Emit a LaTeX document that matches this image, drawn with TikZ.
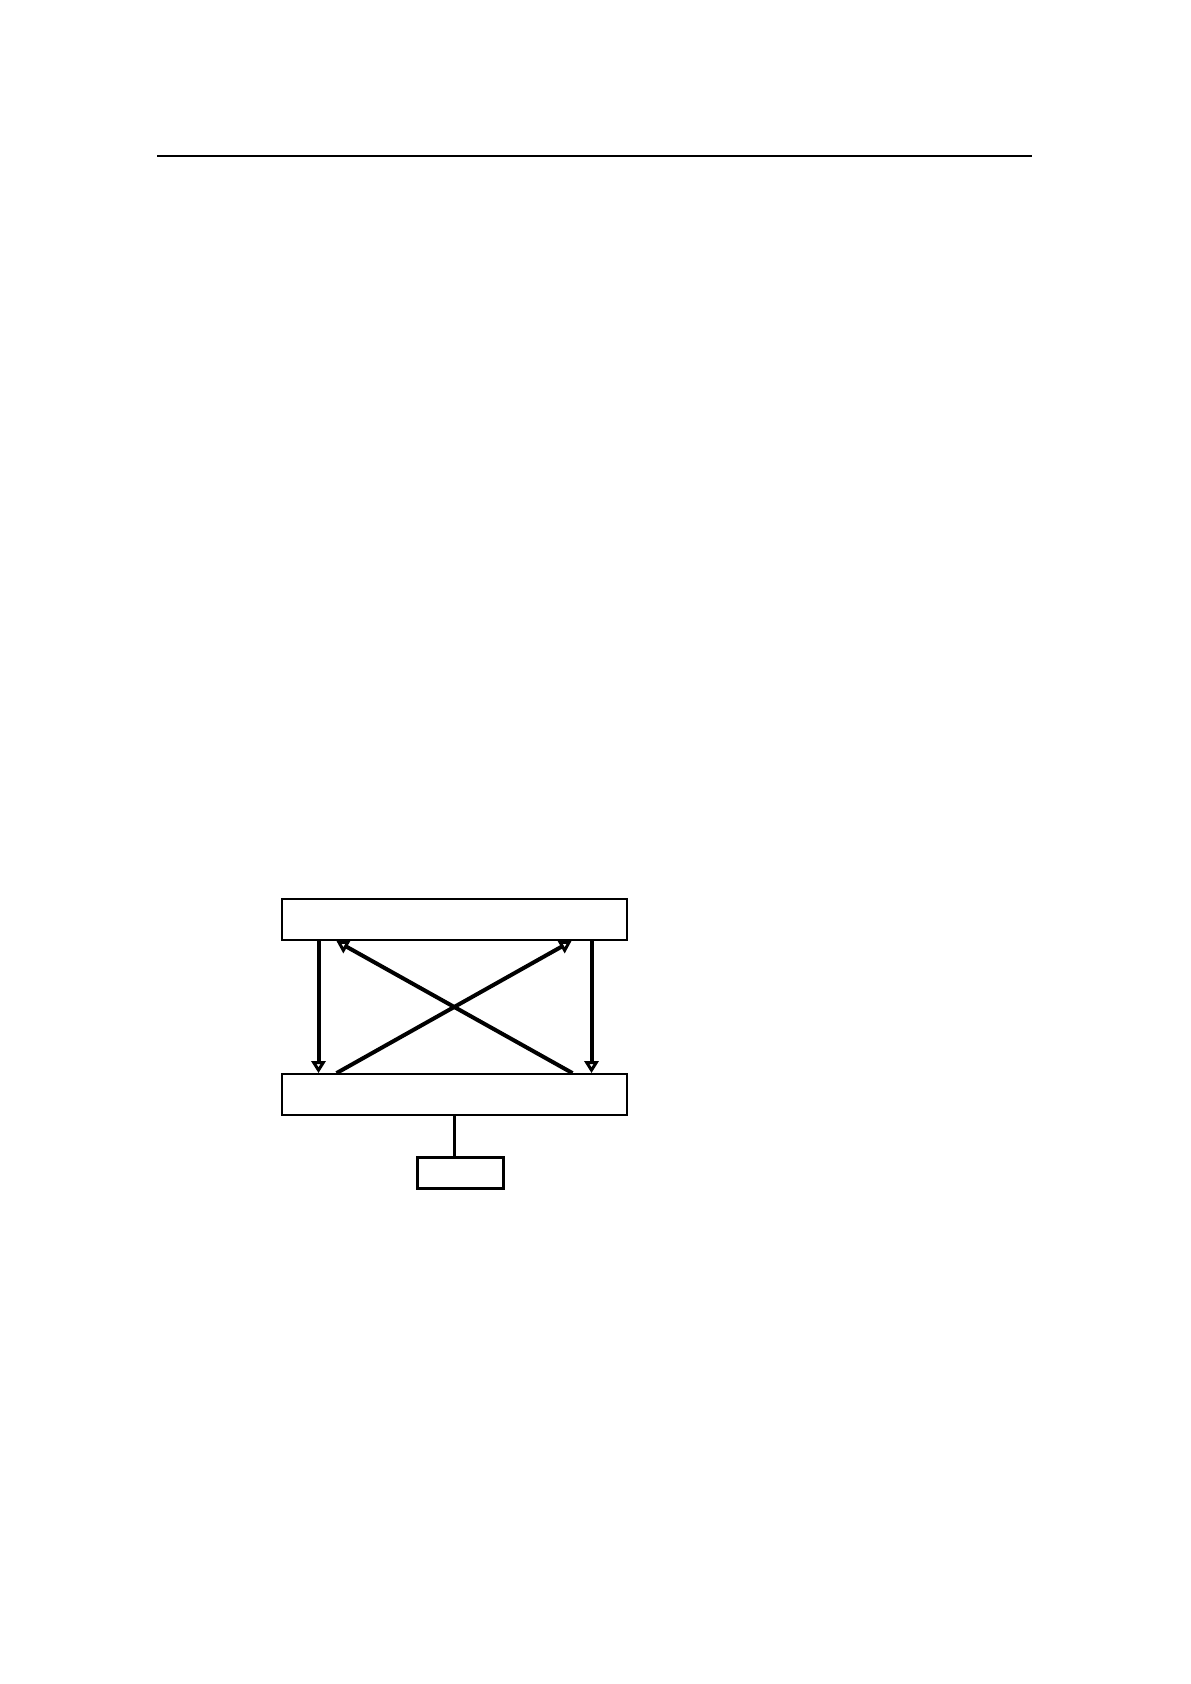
\documentclass[tikz,border=0pt]{standalone}
\usetikzlibrary{positioning, arrows.meta}

\begin{document}
\begin{tikzpicture}[
    x=0.5pt, y=-0.5pt,
    blockbox/.style={draw, line width=1.1pt, minimum width=172.5pt, minimum height=20.5pt, inner sep=0pt},
    smallbox/.style={draw, line width=1.1pt, minimum width=43pt, minimum height=15.5pt, inner sep=0pt},
    arrowstyle/.style={-{Triangle[open, length=6pt, width=7pt]}, line width=2pt},
    linkstyle/.style={line width=1.1pt}
]
\useasboundingbox (0,0) rectangle (1190,1684);

% Header rule
\draw[line width=1.2pt] (157,156) -- (1032,156);

% Blocks
\node[blockbox] (upper) at (454.5,919.5) {};
\node[blockbox, below=66pt of upper] (lower) {};
\node[smallbox, below=20pt of lower, xshift=3pt] (unit) {};

% Vertical arrows
\draw[arrowstyle] ([xshift=-68pt]upper.south) -- ([xshift=-68pt]lower.north);
\draw[arrowstyle] ([xshift=68.5pt]upper.south) -- ([xshift=68.5pt]lower.north);

% Crossing arrows
\draw[arrowstyle] ([xshift=59pt]lower.north) -- ([xshift=-59pt]upper.south);
\draw[arrowstyle] ([xshift=-59pt]lower.north) -- ([xshift=58.5pt]upper.south);

% Link to unit
\draw[linkstyle] (lower.south) -- (lower.south |- unit.north);

\end{tikzpicture}
\end{document}
